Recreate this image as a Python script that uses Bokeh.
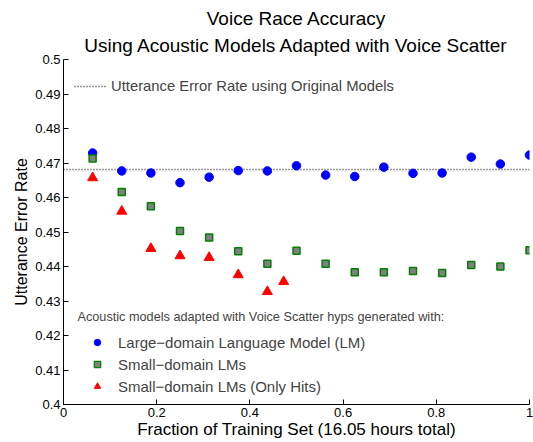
from bokeh.plotting import figure
from bokeh.models import Legend, LegendItem, Label, Title, Range1d, FixedTicker
from bokeh.embed import file_html
from bokeh.resources import INLINE

fractions = [i / 16 for i in range(1, 17)]
large_lm = [0.4729, 0.4677, 0.4671, 0.4643, 0.4659, 0.4678, 0.4677, 0.4692,
            0.4665, 0.4661, 0.4688, 0.4670, 0.4671, 0.4717, 0.4697, 0.4723]
small_lm = [0.4713, 0.4616, 0.4575, 0.4503, 0.4484, 0.4444, 0.4408, 0.4446,
            0.4408, 0.4383, 0.4383, 0.4387, 0.4381, 0.4404, 0.4400, 0.4447]
hits_x = [0.0625, 0.125, 0.1875, 0.25, 0.3125, 0.375, 0.4375, 0.4725]
hits_y = [0.4657, 0.4560, 0.4452, 0.4431, 0.4426, 0.4376, 0.4327, 0.4356]
baseline = 0.4681
x_range = (0, 1)
y_range = (0.4, 0.5)
x_ticks = [0, 0.2, 0.4, 0.6, 0.8, 1]
y_ticks = [0.4, 0.41, 0.42, 0.43, 0.44, 0.45, 0.46, 0.47, 0.48, 0.49, 0.5]
title_lines = ["Voice Race Accuracy", "Using Acoustic Models Adapted with Voice Scatter"]

FONT = "Liberation Sans"
NAN = float("nan")

p = figure(width=533, height=442, output_backend="svg", toolbar_location=None,
           x_range=Range1d(*x_range), y_range=Range1d(*y_range),
           min_border_left=63, min_border_right=4, min_border_top=59, min_border_bottom=38)
p.title.visible = False
p.add_layout(Title(text=title_lines[1], align="center", text_font=FONT, text_font_size="19px",
                   text_font_style="normal", text_color="black", standoff=8), "above")
p.add_layout(Title(text=title_lines[0], align="center", text_font=FONT, text_font_size="19px",
                   text_font_style="normal", text_color="black", standoff=0,
                   text_line_height=0.8), "above")

p.outline_line_color = None
p.grid.visible = False
p.background_fill_color = "white"

for ax in (p.xaxis[0], p.yaxis[0]):
    ax.major_tick_in = 5
    ax.major_tick_out = 0
    ax.minor_tick_line_color = None
    ax.axis_line_color = "black"
    ax.major_label_text_font = FONT
    ax.major_label_text_font_size = "13px"
    ax.major_label_text_color = "black"
    ax.axis_label_text_font = FONT
    ax.axis_label_text_font_style = "normal"
    ax.axis_label_text_color = "black"
    ax.major_label_standoff = 3
    ax.axis_label_standoff = 2
p.xaxis.axis_label_text_font_size = "17px"
p.yaxis.axis_label_text_font_size = "16px"
p.xaxis.axis_label_standoff = 0

p.xaxis.ticker = FixedTicker(ticks=x_ticks)
p.xaxis.major_label_overrides = {t: ("%g" % t) for t in x_ticks}
p.yaxis.ticker = FixedTicker(ticks=y_ticks)
p.yaxis.major_label_overrides = {t: ("%g" % t) for t in y_ticks}
p.xaxis.axis_label = "Fraction of Training Set (16.05 hours total)"
p.yaxis.axis_label = "Utterance Error Rate"

base_r = p.line(list(x_range), [baseline, baseline], line_color="#333333", line_width=1.5, line_dash="1 2")
p.scatter(fractions, large_lm, marker="circle", size=8.5, fill_color="#0000ff", line_color="#0000ff")
p.scatter(fractions, small_lm, marker="square", size=7, fill_color="#808080",
          line_color="#008000", line_width=1.5)
p.scatter(hits_x, hits_y, marker="triangle", size=10, fill_color="#ff0000", line_color="#ff0000")

# smaller legend-only proxies (MATLAB draws reduced legend markers)
l1 = p.scatter([NAN], [NAN], marker="circle", size=6, fill_color="#0000ff", line_color="#0000ff")
l2 = p.scatter([NAN], [NAN], marker="square", size=5, fill_color="#808080", line_color="#008000", line_width=1.2)
l3 = p.scatter([NAN], [NAN], marker="triangle", size=7.5, fill_color="#ff0000", line_color="#ff0000")

leg1 = Legend(items=[LegendItem(label="Utterance Error Rate using Original Models", renderers=[base_r])],
              location=(11, 308), glyph_width=33, glyph_height=20, label_height=20,
              label_standoff=4, padding=0, margin=0, border_line_color=None,
              background_fill_alpha=0, label_text_font=FONT, label_text_font_size="14.8px")
leg2 = Legend(items=[LegendItem(label="Large\u2212domain Language Model (LM)", renderers=[l1], index=0),
                     LegendItem(label="Small\u2212domain LMs", renderers=[l2], index=0),
                     LegendItem(label="Small\u2212domain LMs (Only Hits)", renderers=[l3], index=0)],
              location=(26, 8), glyph_width=16, glyph_height=16, label_height=20, spacing=2,
              label_standoff=13, padding=0, margin=0, border_line_color=None,
              background_fill_alpha=0, label_text_font=FONT, label_text_font_size="15px")
p.add_layout(leg1, "center")
p.add_layout(leg2, "center")

p.add_layout(Label(x=14, y=88, x_units="screen", y_units="screen",
                   text="Acoustic models adapted with Voice Scatter hyps generated with:",
                   text_font=FONT, text_font_size="12.7px", text_baseline="middle"))

open("out.html", "w").write(file_html(p, INLINE))
